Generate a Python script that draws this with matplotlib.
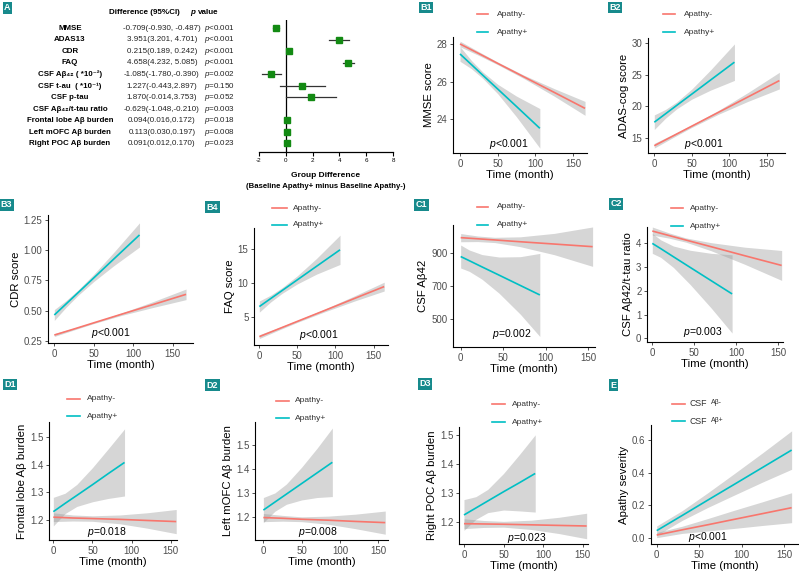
import matplotlib
matplotlib.use("Agg")
import matplotlib.pyplot as plt
from matplotlib.lines import Line2D
import numpy as np

plt.rcParams['font.family'] = ['Liberation Sans', 'DejaVu Sans']
plt.rcParams['mathtext.fontset'] = 'custom'
plt.rcParams['mathtext.rm'] = 'Liberation Sans'
plt.rcParams['mathtext.it'] = 'Liberation Sans:italic'
plt.rcParams['mathtext.bf'] = 'Liberation Sans:bold'
plt.rcParams['axes.unicode_minus'] = False

# ---- panel A: table + forest plot ----
a_labels = ["MMSE", "ADAS13", "CDR", "FAQ",
            "CSF Aβ₄₂ ( *10⁻²)", "CSF t-au  ( *10⁻¹)", "CSF p-tau",
            "CSF Aβ₄₂/t-tau ratio", "Frontal lobe Aβ burden",
            "Left mOFC Aβ burden", "Right POC Aβ burden"]
a_est = [-0.709, 3.951, 0.215, 4.658, -1.085, 1.227, 1.870, -0.629, 0.094, 0.113, 0.091]
a_lo = [-0.930, 3.201, 0.189, 4.232, -1.780, -0.443, -0.014, -1.048, 0.016, 0.030, 0.012]
a_hi = [-0.487, 4.701, 0.242, 5.085, -0.390, 2.897, 3.753, -0.210, 0.172, 0.197, 0.170]
a_diff_txt = ["-0.709(-0.930, -0.487)", "3.951(3.201, 4.701)", "0.215(0.189, 0.242)",
              "4.658(4.232, 5.085)", "-1.085(-1.780,-0.390)", "1.227(-0.443,2.897)",
              "1.870(-0.014,3.753)", "-0.629(-1.048,-0.210)", "0.094(0.016,0.172)",
              "0.113(0.030,0.197)", "0.091(0.012,0.170)"]
a_p_txt = ["<0.001", "<0.001", "<0.001", "<0.001", "=0.002", "=0.150",
           "=0.052", "=0.003", "=0.018", "=0.008", "=0.023"]
a_plotted = [True, True, True, True, True, True, True, False, True, True, True]

# ---- trajectory panels: rows of (month, lower CI, fit, upper CI) ----
mmse_neg = [(0, 27.85, 28.00, 28.15), (25, 27.39, 27.49, 27.59), (50, 26.90, 26.97, 27.04),
            (85, 26.16, 26.25, 26.34), (125, 25.23, 25.43, 25.63), (166, 24.21, 24.58, 24.95)]
mmse_pos = [(0, 27.08, 27.47, 27.86), (15, 26.69, 26.91, 27.13), (30, 26.18, 26.35, 26.52),
            (50, 25.36, 25.61, 25.86), (75, 24.13, 24.68, 25.23), (106, 22.47, 23.52, 24.57)]
adas_neg = [(0, 13.35, 13.73, 14.11), (25, 15.02, 15.28, 15.54), (50, 16.63, 16.83, 17.03),
            (85, 18.69, 18.99, 19.29), (125, 20.77, 21.47, 22.17), (167, 22.75, 24.07, 25.39)]
adas_pos = [(0, 16.30, 17.46, 18.62), (15, 18.10, 18.80, 19.50), (30, 19.59, 20.14, 20.69),
            (50, 21.12, 21.92, 22.72), (75, 22.55, 24.15, 25.75), (107, 24.10, 27.00, 29.90)]
cdr_neg = [(0, 0.285, 0.297, 0.309), (25, 0.339, 0.347, 0.355), (50, 0.392, 0.398, 0.404),
           (85, 0.459, 0.469, 0.479), (125, 0.525, 0.549, 0.573), (167, 0.590, 0.634, 0.678)]
cdr_pos = [(0, 0.418, 0.463, 0.508), (15, 0.527, 0.555, 0.583), (30, 0.625, 0.647, 0.669),
           (50, 0.740, 0.770, 0.800), (75, 0.869, 0.924, 0.979), (108, 1.026, 1.126, 1.226)]
faq_neg = [(0, 1.88, 2.16, 2.44), (25, 3.09, 3.28, 3.47), (50, 4.25, 4.40, 4.55),
           (85, 5.76, 5.96, 6.16), (125, 7.38, 7.76, 8.14), (164, 8.85, 9.50, 10.15)]
faq_pos = [(0, 5.75, 6.57, 7.39), (15, 7.25, 7.75, 8.25), (30, 8.51, 8.93, 9.35),
           (50, 9.90, 10.50, 11.10), (75, 11.32, 12.47, 13.62), (106, 12.75, 14.90, 17.05)]
ab42_neg = [(0, 970, 995, 1020), (20, 971, 988, 1005), (40, 965, 981, 997),
            (70, 940, 970, 1000), (110, 891, 956, 1021), (155, 820, 940, 1060)]
ab42_pos = [(0, 810, 880, 950), (10, 790, 855, 920), (25, 742, 817, 892),
            (45, 657, 767, 877), (70, 529, 704, 879), (93, 393, 646, 899)]
ratio_neg = [(0, 4.35, 4.52, 4.69), (20, 4.22, 4.33, 4.44), (40, 4.05, 4.14, 4.23),
             (70, 3.69, 3.86, 4.03), (110, 3.12, 3.48, 3.84), (154, 2.44, 3.07, 3.70)]
ratio_pos = [(0, 3.58, 4.00, 4.42), (10, 3.41, 3.78, 4.15), (25, 2.99, 3.44, 3.89),
             (45, 2.27, 2.99, 3.71), (70, 1.28, 2.43, 3.58), (95, 0.22, 1.87, 3.52)]
front_neg = [(0, 1.194, 1.210, 1.226), (25, 1.196, 1.207, 1.218), (50, 1.195, 1.205, 1.215),
             (85, 1.186, 1.202, 1.218), (120, 1.170, 1.198, 1.226), (157, 1.150, 1.194, 1.238)]
front_pos = [(0, 1.178, 1.230, 1.282), (15, 1.223, 1.260, 1.297), (30, 1.249, 1.289, 1.329),
             (50, 1.266, 1.328, 1.390), (70, 1.278, 1.368, 1.458), (91, 1.287, 1.409, 1.531)]
mofc_neg = [(0, 1.182, 1.199, 1.216), (25, 1.184, 1.196, 1.208), (50, 1.182, 1.192, 1.202),
            (85, 1.171, 1.188, 1.205), (120, 1.153, 1.183, 1.213), (159, 1.130, 1.178, 1.226)]
mofc_pos = [(0, 1.178, 1.230, 1.282), (15, 1.225, 1.263, 1.301), (30, 1.254, 1.296, 1.338),
            (50, 1.272, 1.340, 1.408), (70, 1.282, 1.384, 1.486), (90, 1.286, 1.428, 1.570)]
poc_neg = [(0, 1.178, 1.195, 1.212), (25, 1.182, 1.194, 1.206), (50, 1.183, 1.193, 1.203),
           (85, 1.175, 1.191, 1.207), (120, 1.161, 1.189, 1.217), (155, 1.143, 1.187, 1.231)]
poc_pos = [(0, 1.172, 1.225, 1.278), (15, 1.210, 1.249, 1.288), (30, 1.233, 1.273, 1.313),
           (50, 1.242, 1.305, 1.368), (70, 1.239, 1.336, 1.433), (90, 1.235, 1.368, 1.501)]
apathy_neg = [(0, 0.000, 0.016, 0.032), (30, 0.026, 0.048, 0.070), (60, 0.041, 0.079, 0.117),
              (90, 0.056, 0.111, 0.166), (125, 0.075, 0.148, 0.221), (159, 0.092, 0.184, 0.276)]
apathy_pos = [(0, 0.014, 0.043, 0.072), (30, 0.106, 0.136, 0.166), (60, 0.185, 0.230, 0.275),
              (90, 0.258, 0.323, 0.388), (125, 0.342, 0.432, 0.522), (159, 0.420, 0.538, 0.656)]

panel_names = ["B1", "B2", "B3", "B4", "C1", "C2", "D1", "D2", "D3", "E"]
panel_ylabels = ["MMSE score", "ADAS-cog score", "CDR score", "FAQ score", "CSF Aβ42",
                 "CSF Aβ42/t-tau ratio", "Frontal lobe Aβ burden", "Left mOFC Aβ burden",
                 "Right POC Aβ burden", "Apathy severity"]
panel_yticks = [[24, 26, 28], [15, 20, 25, 30], [0.25, 0.50, 0.75, 1.00, 1.25], [5, 10, 15],
                [500, 700, 900], [0, 1, 2, 3, 4], [1.2, 1.3, 1.4, 1.5], [1.2, 1.3, 1.4, 1.5],
                [1.2, 1.3, 1.4, 1.5], [0.0, 0.2, 0.4, 0.6]]
panel_ytick_fmt = ["{:g}", "{:g}", "{:.2f}", "{:g}", "{:g}", "{:g}", "{:.1f}", "{:.1f}", "{:.1f}", "{:.1f}"]
panel_p = ["<0.001", "<0.001", "<0.001", "<0.001", "=0.002", "=0.003", "=0.018", "=0.008", "=0.023", "<0.001"]
panel_data = [(mmse_neg, mmse_pos), (adas_neg, adas_pos), (cdr_neg, cdr_pos), (faq_neg, faq_pos),
              (ab42_neg, ab42_pos), (ratio_neg, ratio_pos), (front_neg, front_pos),
              (mofc_neg, mofc_pos), (poc_neg, poc_pos), (apathy_neg, apathy_pos)]
xticks = [0, 50, 100, 150]
legend_apathy = ["Apathy-", "Apathy+"]

# ---- layout (pixels) ----
W, H = 799, 575
# box: left, top, right, bottom ; xlim ; ylim
boxes = [(453, 37, 587, 153), (648, 38, 785, 153), (48, 215, 193, 343), (254, 228, 388, 345),
         (453, 225, 595, 347), (647, 227, 783, 342), (49, 422, 177, 540), (255, 422, 388, 540),
         (459, 427, 588, 544), (651, 425, 798, 544)]
xlims = [(-9.3, 168.6), (-8.4, 174.5), (-8.0, 175.8), (-7, 169), (-9, 157.8), (-6.3, 155.6),
         (-5.5, 158), (-10.9, 162.6), (-6.3, 156.7), (-6.7, 166.5)]
ylims = [(22.21, 28.37), (12.57, 30.84), (0.231, 1.291), (0.93, 18.1), (329, 1072), (-0.156, 4.69),
         (1.127, 1.556), (1.106, 1.595), (1.125, 1.528), (-0.039, 0.692)]
p_pos = [(509, 144), (704, 144), (111, 333), (319, 335), (512, 334), (703, 332),
         (107, 532), (318, 532), (527, 538), (708, 537)]
# legend: line x1, x2, y(-), y(+), text x ; None = no legend
leg_pos = [(477, 488, 14, 32, 497), (663, 675, 14, 32, 684), None, (272, 287, 208, 225, 293),
           (477, 488, 207, 225, 497), (671, 683, 208, 226, 690), (67, 80, 399, 416, 87),
           (276, 289, 401, 418, 295), (492, 505, 404, 422, 512), (672, 685, 404, 421, 689)]
tag_pos = {"A": (7.5, 8), "B1": (426, 7.5), "B2": (615, 7.5), "B3": (6.5, 205), "B4": (212.5, 207),
           "C1": (421.5, 205), "C2": (616, 204), "D1": (10, 384.5), "D2": (212.5, 385),
           "D3": (425, 384), "E": (613.5, 385)}

RED = "#F8766D"
CYAN = "#00BFC4"
TEAL = "#178a8c"


def fx(x):
    return x / W


def fy(y):
    return 1 - y / H


def px_axes(fig, box):
    l, t, r, b = box
    return fig.add_axes([fx(l), fy(b), (r - l) / W, (b - t) / H])


fig = plt.figure(figsize=(W / 100, H / 100), dpi=100)
fig.patch.set_facecolor("white")

# panel tags
for name, (cx, cy) in tag_pos.items():
    fig.text(fx(cx), fy(cy), name, color="white", fontsize=6.5, fontweight="bold",
             ha="center", va="center",
             bbox=dict(boxstyle="square,pad=0.15", fc=TEAL, ec="none"))

# ---- panel A table ----
row_y = [28.3 + 11.55 * i for i in range(len(a_labels))]
fig.text(fx(144), fy(12.5), "Difference (95%CI)", fontsize=5.8, fontweight="bold", ha="center", va="center")
fig.text(fx(190), fy(12.5), "p", fontsize=5.8, fontweight="bold", style="italic", ha="left", va="center")
fig.text(fx(197.5), fy(12.5), "value", fontsize=5.8, fontweight="bold", ha="left", va="center")
for i, lab in enumerate(a_labels):
    y = fy(row_y[i])
    fig.text(fx(70), y, lab, fontsize=5.7, fontweight="bold", ha="center", va="center")
    fig.text(fx(162), y, a_diff_txt[i], fontsize=5.8, ha="center", va="center", color="#222222")
    fig.text(fx(204.5), y, "$p$" + a_p_txt[i], fontsize=5.8, ha="left", va="center", color="#222222")

# forest plot
axf = px_axes(fig, (259, 20, 393, 151.7))
for i in range(len(a_est)):
    if not a_plotted[i]:
        continue
    axf.plot([a_lo[i], a_hi[i]], [i, i], color="#333333", lw=0.9, zorder=2)
    axf.plot(a_est[i], i, marker="s", ms=4.2, color="#138a13", zorder=3, ls="none")
axf.axvline(0, color="black", lw=0.9, zorder=1)
axf.set_xlim(-2, 8)
axf.set_ylim(len(a_est) - 0.27, -0.72)
axf.set_xticks([-2, 0, 2, 4, 6, 8])
axf.set_yticks([])
for s in ["left", "top", "right"]:
    axf.spines[s].set_visible(False)
axf.spines["bottom"].set_linewidth(0.9)
axf.tick_params(axis="x", labelsize=4.5, length=3, width=0.8, pad=1.5)
axf.patch.set_alpha(0)
fig.text(fx(326), fy(175.7), "Group Difference", fontsize=6, fontweight="bold", ha="center", va="center")
fig.text(fx(326), fy(186), "(Baseline Apathy+ minus Baseline Apathy-)", fontsize=5.6,
         fontweight="bold", ha="center", va="center")

# ---- trajectory panels ----
for k, name in enumerate(panel_names):
    ax = px_axes(fig, boxes[k])
    neg, pos = panel_data[k]
    for rows in (neg, pos):
        arr = np.array(rows)
        ax.fill_between(arr[:, 0], arr[:, 1], arr[:, 3], color="#999999", alpha=0.4, lw=0)
    for rows, col in ((neg, RED), (pos, CYAN)):
        arr = np.array(rows)
        ax.plot(arr[:, 0], arr[:, 2], color=col, lw=1.2, solid_capstyle="butt")
    ax.set_xlim(*xlims[k])
    ax.set_ylim(*ylims[k])
    ax.set_xticks(xticks)
    ax.set_yticks(panel_yticks[k])
    ax.set_yticklabels([panel_ytick_fmt[k].format(v) for v in panel_yticks[k]])
    for s in ["top", "right"]:
        ax.spines[s].set_visible(False)
    for s in ["left", "bottom"]:
        ax.spines[s].set_linewidth(0.8)
        ax.spines[s].set_color("black")
    ax.tick_params(labelsize=7, labelcolor="#4d4d4d", color="#333333", length=2.5, width=0.6, pad=1.5)
    ax.set_xlabel("Time (month)", fontsize=8.2, labelpad=1)
    ax.set_ylabel(panel_ylabels[k], fontsize=8.2, labelpad=2)
    ax.patch.set_alpha(0)

    px, py = p_pos[k]
    fig.text(fx(px), fy(py), "$p$" + panel_p[k], fontsize=7.5, ha="center", va="center")

    lp = leg_pos[k]
    if lp is not None:
        x1, x2, yn, yp, tx = lp
        for yy, col in ((yn, RED), (yp, CYAN)):
            fig.add_artist(Line2D([fx(x1), fx(x2)], [fy(yy), fy(yy)], color=col, lw=1.2,
                                  transform=fig.transFigure))
        if name == "E":
            for yy, sign in ((yn, "-"), (yp, "+")):
                fig.text(fx(tx), fy(yy), "CSF", fontsize=6.3, ha="left", va="center", color="#333333")
                fig.text(fx(tx + 22), fy(yy - 1), "Aβ" + sign, fontsize=5, ha="left", va="center", color="#333333")
        else:
            for yy, lab in zip((yn, yp), legend_apathy):
                fig.text(fx(tx), fy(yy), lab, fontsize=6, ha="left", va="center", color="#333333")

fig.savefig("out.png", dpi=100, facecolor="white")
